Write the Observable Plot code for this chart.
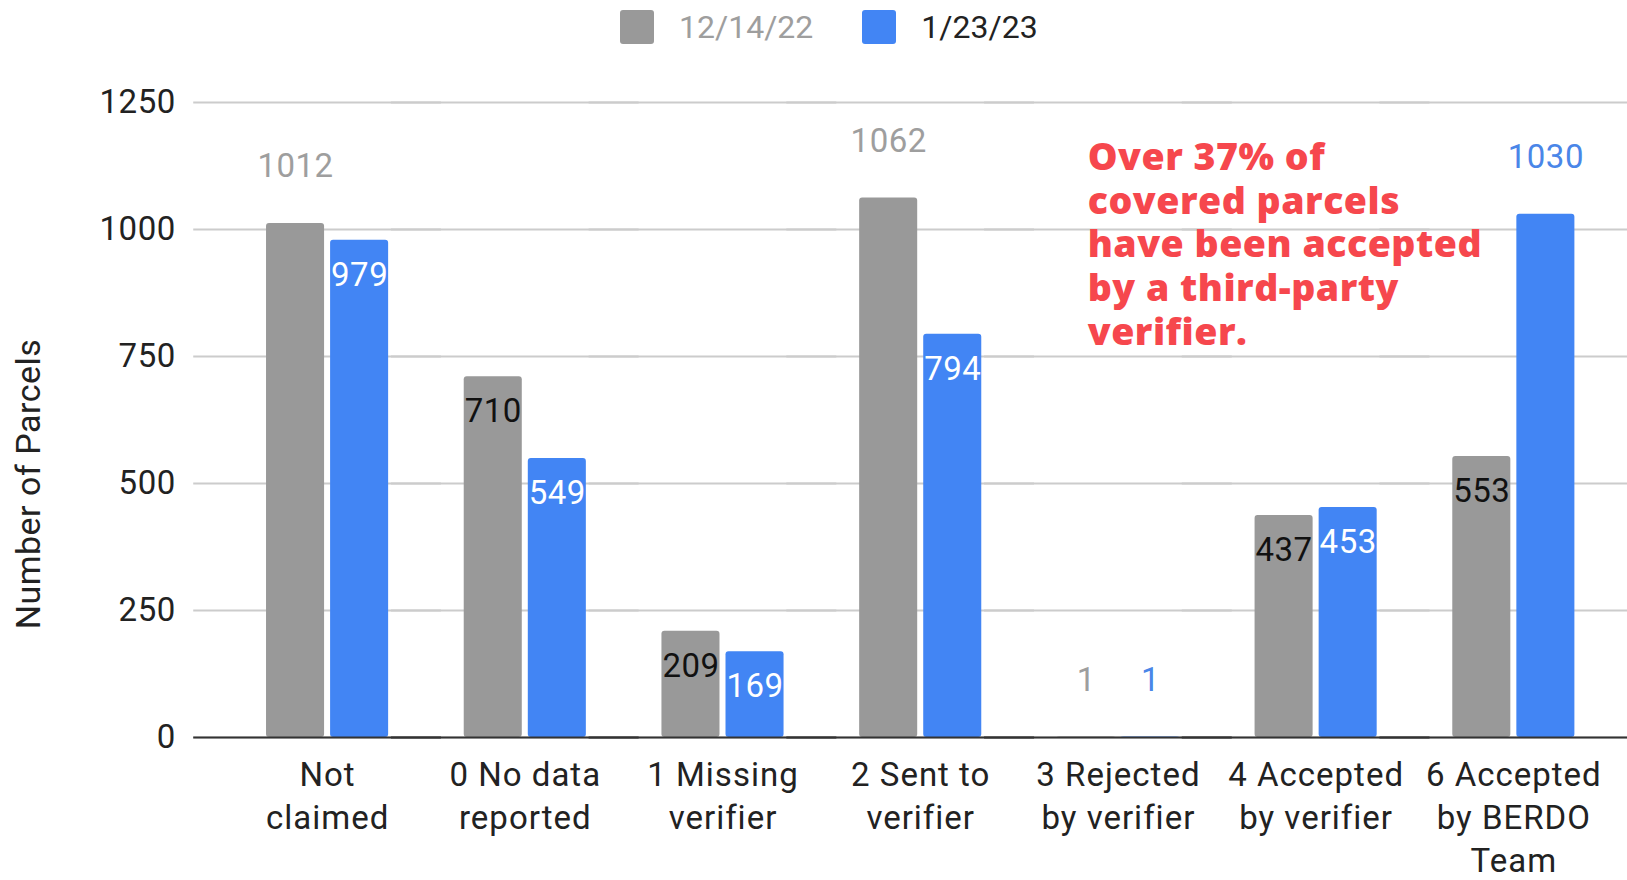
<!DOCTYPE html>
<html>
<head>
<meta charset="utf-8">
<script src="https://cdn.jsdelivr.net/npm/d3@7"></script>
<script src="https://cdn.jsdelivr.net/npm/@observablehq/plot@0.6"></script>
<style>
  body { margin: 0; background: #fff; font-family: Roboto, sans-serif; }
  #legend { position: relative; height: 55px; }
  #legend .items { position: absolute; left: 620px; top: 10px; display: flex; align-items: center; }
  #legend .sw { width: 34px; height: 34px; border-radius: 3px; margin-right: 25px; }
  #legend .lb { font-size: 32px; line-height: 34px; margin-right: 49px; }
  #chart svg text { letter-spacing: 0.5px; }
  #chart svg g[aria-label="fx-axis tick label"] text { letter-spacing: 1px; }
</style>
</head>
<body>
<div id="legend"></div>
<div id="chart"></div>
<script>
const categories = [
  "Not\nclaimed",
  "0 No data\nreported",
  "1 Missing\nverifier",
  "2 Sent to\nverifier",
  "3 Rejected\nby verifier",
  "4 Accepted\nby verifier",
  "6 Accepted\nby BERDO\nTeam"
];
const seriesNames = ["12/14/22", "1/23/23"];
const values1214 = [1012, 710, 209, 1062, 1, 437, 553];
const values0123 = [979, 549, 169, 794, 1, 453, 1030];
const yTicks = [0, 250, 500, 750, 1000, 1250];
const yTitle = "Number of Parcels";
const note = "Over 37% of\ncovered parcels\nhave been accepted\nby a third-party\nverifier.";

const barColors = ["#999999", "#4285f4"];
const legendTextColors = ["#9e9e9e", "#222222"];
const insideLabelColors = ["#111111", "#ffffff"];
const outsideLabelColors = ["#9e9e9e", "#4a86e8"];

const rows = categories.flatMap((c, i) => [
  {cat: c, series: seriesNames[0], value: values1214[i]},
  {cat: c, series: seriesNames[1], value: values0123[i]}
]);
const isOutside = d => d.value > 1000 || d.value < 50;

// legend
const legend = d3.select("#legend").append("div").attr("class", "items");
seriesNames.forEach((s, i) => {
  legend.append("div").attr("class", "sw").style("background", barColors[i]);
  legend.append("div").attr("class", "lb").style("color", legendTextColors[i]).text(s);
});

const labelMarks = [];
seriesNames.forEach((s, i) => {
  labelMarks.push(Plot.text(rows.filter(d => d.series === s && !isOutside(d)), {
    fx: "cat", x: "series", y: "value", text: d => String(d.value),
    dy: 35, fill: insideLabelColors[i], fontSize: 33
  }));
  labelMarks.push(Plot.text(rows.filter(d => d.series === s && isOutside(d)), {
    fx: "cat", x: "series", y: "value", text: d => String(d.value),
    dy: -57, fill: outsideLabelColors[i], fontSize: 33
  }));
});

const chart = Plot.plot({
  width: 1627,
  height: 825,
  marginLeft: 194,
  marginRight: 0,
  marginTop: 47,
  marginBottom: 143,
  style: {fontFamily: "Roboto", fontSize: "33px", color: "#222", background: "white", overflow: "visible"},
  fx: {domain: categories, paddingInner: 0, paddingOuter: 0.124, align: 0.698, round: false, label: null},
  x: {domain: seriesNames, paddingInner: 0.094, paddingOuter: 0.59, round: false, axis: null},
  y: {domain: [0, 1250], label: null},
  color: {domain: seriesNames, range: barColors},
  marks: [
    Plot.ruleY(yTicks, {stroke: "#cccccc", strokeWidth: 2, insetLeft: -35, insetRight: -15}),
    Plot.barY(rows, {fx: "cat", x: "series", y: "value", fill: "series", rx: 3}),
    Plot.ruleY([0], {stroke: "#333333", strokeWidth: 2, insetLeft: -35, insetRight: -15}),
    ...labelMarks,
    Plot.axisY(yTicks, {tickSize: 0, tickPadding: 53, label: null, fontSize: 33, fill: "#222", tickFormat: d => String(d)}),
    Plot.axisFx({anchor: "bottom", tickSize: 0, tickPadding: 18, lineHeight: 1.3, label: null, fontSize: 33, fill: "#222"}),
    Plot.text([yTitle], {facet: "super", frameAnchor: "left", textAnchor: "middle", rotate: -90, dx: -200, dy: 64, fontSize: 34, fill: "#222"}),
    Plot.text([note], {
      facet: "super", frameAnchor: "top-left", textAnchor: "start", lineAnchor: "top",
      dx: 859, dy: 36, lineHeight: 1.17, fontSize: 37.5, fontWeight: 800,
      fontFamily: "'Open Sans', sans-serif", fill: "#f6474d"
    })
  ]
});
document.getElementById("chart").appendChild(chart);
</script>
</body>
</html>
